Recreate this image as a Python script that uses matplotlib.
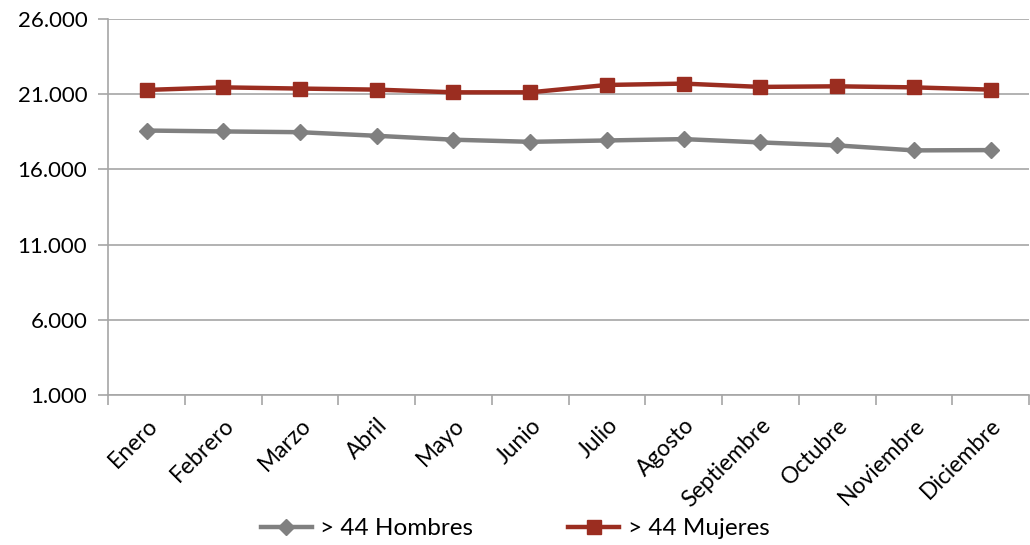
import matplotlib
matplotlib.use("Agg")
import matplotlib.pyplot as plt
import matplotlib.ticker as ticker

meses = ["Enero", "Febrero", "Marzo", "Abril", "Mayo", "Junio", "Julio",
         "Agosto", "Septiembre", "Octubre", "Noviembre", "Diciembre"]
hombres = [18590, 18530, 18480, 18240, 17980, 17840, 17930, 18020, 17800, 17600, 17270, 17290]
mujeres = [21290, 21460, 21380, 21310, 21130, 21130, 21620, 21710, 21490, 21530, 21460, 21310]
y_ticks = [1000, 6000, 11000, 16000, 21000, 26000]

plt.rcParams['font.family'] = ['Lato', 'DejaVu Sans']

fig = plt.figure(figsize=(10.3, 5.45), dpi=100)
ax = fig.add_axes([0.105, 0.275, 0.894, 0.69])

x = list(range(len(meses)))
grid_c = '#a6a6a6'
ax.plot(x, hombres, color='#808080', lw=3.2, marker='D', ms=8.5, label='> 44 Hombres', zorder=3)
ax.plot(x, mujeres, color='#9b2d20', lw=3.2, marker='s', ms=10, label='> 44 Mujeres', zorder=3)

ax.set_xlim(-0.5, len(meses) - 0.5)
ax.set_ylim(1000, 26000)
ax.set_yticks(y_ticks)
ax.yaxis.set_major_formatter(ticker.FuncFormatter(lambda v, p: f"{int(v):,}".replace(",", ".")))
ax.grid(axis='y', color=grid_c, lw=1.2, zorder=0)

ax.set_xticks(x)
ax.set_xticklabels(meses, rotation=45, ha='right', rotation_mode='anchor')
ax.set_xticks([i + 0.5 for i in range(-1, len(meses))], minor=True)
ax.tick_params(axis='x', which='major', length=0, pad=14, labelsize=16.5)
ax.tick_params(axis='x', which='minor', length=7, width=1.2, color=grid_c)
ax.tick_params(axis='y', length=7, width=1.2, color=grid_c, labelsize=16, pad=8)

for s in ['top', 'right']:
    ax.spines[s].set_visible(False)
for s in ['left', 'bottom']:
    ax.spines[s].set_color(grid_c)
    ax.spines[s].set_linewidth(1.2)

fig.legend(loc='lower center', bbox_to_anchor=(0.5, -0.03), ncol=2, frameon=False,
           fontsize=17.5, handlelength=2.1, columnspacing=3.9, handletextpad=0.35)

fig.savefig('out.png', dpi=100)
